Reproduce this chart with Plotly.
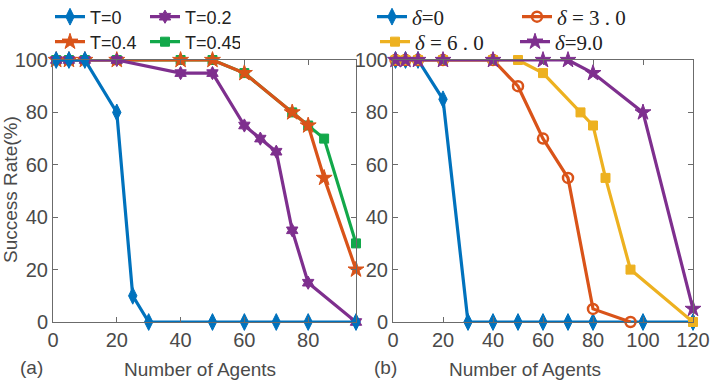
import plotly.graph_objects as go

# ---- data: (a) threshold T ----
x_t0 = [1, 5, 10, 20, 25, 30, 50, 60, 70, 80, 95]
y_t0 = [100, 100, 100, 80, 10, 0, 0, 0, 0, 0, 0]
x_t02 = [1, 5, 10, 20, 40, 50, 60, 65, 70, 75, 80, 95]
y_t02 = [100, 100, 100, 100, 95, 95, 75, 70, 65, 35, 15, 0]
x_t04 = [1, 5, 10, 20, 40, 50, 60, 75, 80, 85, 95]
y_t04 = [100, 100, 100, 100, 100, 100, 95, 80, 75, 55, 20]
x_t045 = [1, 5, 10, 20, 40, 50, 60, 75, 80, 85, 95]
y_t045 = [100, 100, 100, 100, 100, 100, 95, 80, 75, 70, 30]

# ---- data: (b) delta ----
x_d0 = [1, 5, 10, 20, 30, 40, 50, 60, 70, 80, 100, 120]
y_d0 = [100, 100, 100, 85, 0, 0, 0, 0, 0, 0, 0, 0]
x_d3 = [1, 5, 10, 20, 40, 50, 60, 70, 80, 95]
y_d3 = [100, 100, 100, 100, 100, 90, 70, 55, 5, 0]
x_d6 = [1, 5, 10, 20, 40, 50, 60, 75, 80, 85, 95, 120]
y_d6 = [100, 100, 100, 100, 100, 100, 95, 80, 75, 55, 20, 0]
x_d9 = [1, 5, 10, 20, 40, 60, 70, 80, 100, 120]
y_d9 = [100, 100, 100, 100, 100, 100, 100, 95, 80, 5]

y_ticks = [0, 20, 40, 60, 80, 100]
xa_ticks = [0, 20, 40, 60, 80]
xb_ticks = [0, 20, 40, 60, 80, 100, 120]

BLUE = "#0072BD"
ORANGE = "#D95319"
YELLOW = "#EDB120"
PURPLE = "#7E2F8E"
GREEN = "#12A84A"

W, H = 711, 381
SANS = "Liberation Sans, Arial, sans-serif"
SERIF = "Liberation Serif, Times New Roman, serif"
GREY = "#4a4a4a"

fig = go.Figure()


def add(x, y, name, color, symbol, size, xa, ya, legend, rank, open_=False):
    marker = dict(symbol=symbol, size=size, color=color,
                  line=dict(color=color, width=2.5 if open_ else 1))
    fig.add_trace(go.Scatter(
        x=x, y=y, name=name, mode="lines+markers",
        line=dict(color=color, width=3.2), marker=marker,
        xaxis=xa, yaxis=ya, legend=legend, legendrank=rank,
        cliponaxis=False,
    ))


# panel (a): drawn back-to-front so T=0 sits on top
add(x_t045, y_t045, "T=0.45", GREEN, "square", 9, "x", "y", "legend2", 2)
add(x_t04, y_t04, "T=0.4", ORANGE, "star", 12, "x", "y", "legend2", 1)
add(x_t02, y_t02, "T=0.2", PURPLE, "hexagram", 10, "x", "y", "legend", 2)
add(x_t0, y_t0, "T=0", BLUE, "diamond-tall", 12, "x", "y", "legend", 1)

# panel (b)
add(x_d0, y_d0, "<i>δ</i>=0", BLUE, "diamond-tall", 12, "x2", "y2", "legend3", 1)
add(x_d3, y_d3, "<i>δ</i> = 3 . 0", ORANGE, "circle-open", 10, "x2", "y2", "legend3", 2, open_=True)
add(x_d6, y_d6, "<i>δ</i> = 6 . 0", YELLOW, "square", 9, "x2", "y2", "legend4", 1)
add(x_d9, y_d9, "<i>δ</i>=9.0", PURPLE, "star", 12, "x2", "y2", "legend4", 2)

ydom = [1 - 322 / H, 1 - 60 / H]
axis_common = dict(
    showline=True, linecolor="#6b6b6b", linewidth=1, mirror="ticks",
    ticks="inside", ticklen=5, tickcolor="#6b6b6b", showgrid=False,
    zeroline=False, automargin=False,
    tickfont=dict(family=SANS, size=20, color=GREY),
)

fig.update_layout(
    width=W, height=H,
    margin=dict(l=0, r=0, t=0, b=0, autoexpand=False),
    paper_bgcolor="white", plot_bgcolor="white",
    xaxis=dict(domain=[53 / W, 356 / W], range=[0, 95], tickvals=xa_ticks,
               anchor="y", **axis_common),
    yaxis=dict(domain=ydom, range=[0, 100], tickvals=y_ticks, anchor="x",
               ticklabelstandoff=0, **axis_common),
    xaxis2=dict(domain=[393 / W, 693 / W], range=[0, 120], tickvals=xb_ticks,
                anchor="y2", **axis_common),
    yaxis2=dict(domain=ydom, range=[0, 100], tickvals=y_ticks, anchor="x2",
                ticklabelstandoff=0, **axis_common),
    showlegend=True,
)

leg_common = dict(orientation="h", bgcolor="rgba(0,0,0,0)", borderwidth=0,
                  xanchor="left", yanchor="middle", entrywidthmode="pixels",
                  traceorder="normal", itemclick=False)
fig.update_layout(
    legend=dict(x=50 / W, y=1 - 17 / H, entrywidth=50,
                font=dict(family=SANS, size=18, color="#222"), **leg_common),
    legend2=dict(x=50 / W, y=1 - 42 / H, entrywidth=50,
                 font=dict(family=SANS, size=18, color="#222"), **leg_common),
    legend3=dict(x=372 / W, y=1 - 17 / H, entrywidth=100,
                 font=dict(family=SERIF, size=21, color="#222"), **leg_common),
    legend4=dict(x=375 / W, y=1 - 42 / H, entrywidth=95,
                 font=dict(family=SERIF, size=21, color="#222"), **leg_common),
)

ann = [
    dict(text="Success Rate(%)", x=10 / W, y=1 - 190 / H, textangle=-90,
         font=dict(family=SANS, size=19, color=GREY)),
    dict(text="Number of Agents", x=200 / W, y=1 - 369 / H,
         font=dict(family=SANS, size=19, color=GREY)),
    dict(text="Number of Agents", x=525 / W, y=1 - 369 / H,
         font=dict(family=SANS, size=19, color=GREY)),
    dict(text="(a)", x=31 / W, y=1 - 367 / H,
         font=dict(family=SANS, size=19, color=GREY)),
    dict(text="(b)", x=386 / W, y=1 - 367 / H,
         font=dict(family=SANS, size=19, color=GREY)),
]
for a in ann:
    fig.add_annotation(xref="paper", yref="paper", showarrow=False,
                       xanchor="center", yanchor="middle", **a)

fig.write_html("out.html")
